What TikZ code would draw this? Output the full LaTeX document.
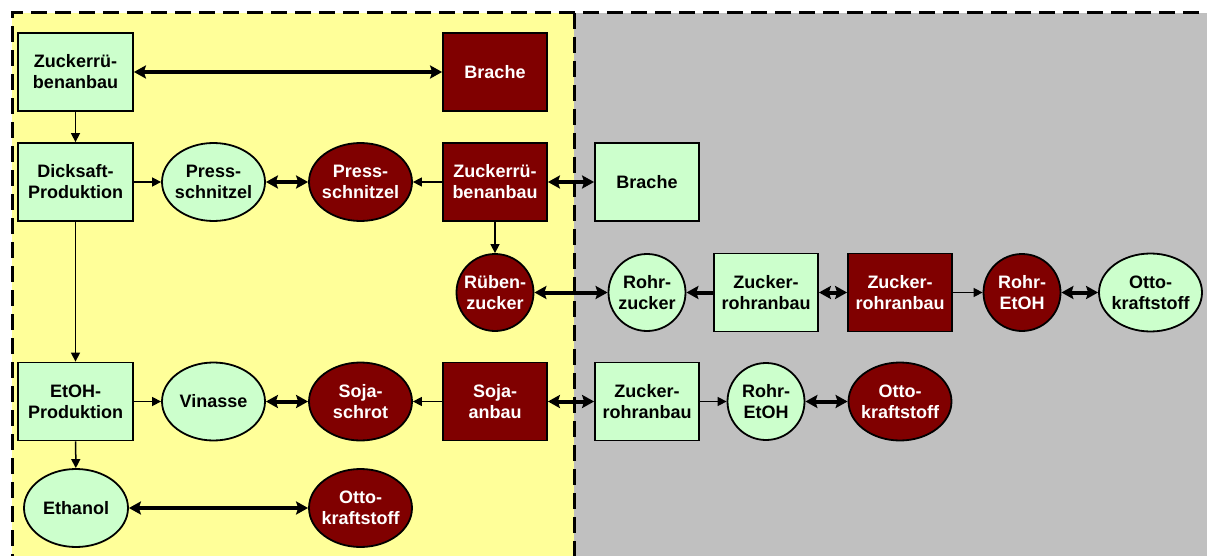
\documentclass[tikz,border=0pt]{standalone}
\usepackage{fontspec}
\setmainfont{Liberation Sans}
\usepackage{tikz}
\usetikzlibrary{shapes.geometric,arrows.meta}
\definecolor{PaleGreen}{HTML}{CCFFCC}
\definecolor{DarkRed}{HTML}{800000}
\definecolor{PaleYellow}{HTML}{FFFF99}
\definecolor{MidGray}{HTML}{C0C0C0}
\newcommand{\PG}[0]{PaleGreen}
\newcommand{\PR}[0]{DarkRed}

\tikzset{
  cell/.style={draw=black, line width=1.8pt, inner sep=0pt, align=center,
    font=\bfseries\fontsize{18}{21}\selectfont},
  gbox/.style={cell, rectangle, fill=\PG, minimum width=104pt, minimum height=78pt},
  rbox/.style={cell, rectangle, fill=\PR, text=white, minimum width=104pt, minimum height=78pt},
  gell/.style={cell, ellipse, fill=\PG, inner xsep=-4pt, minimum width=103pt, minimum height=78pt},
  rell/.style={cell, ellipse, fill=\PR, text=white, inner xsep=-4pt, minimum width=103pt, minimum height=78pt},
  gcirc/.style={cell, circle, fill=\PG, minimum size=77pt},
  rcirc/.style={cell, circle, fill=\PR, text=white, minimum size=77pt},
  flow/.style={line width=1.5pt, -{Triangle[length=9pt,width=9pt]}},
  swap/.style={line width=4pt, {Stealth[length=12pt,width=13pt,inset=2pt]}-{Stealth[length=12pt,width=13pt,inset=2pt]}},
  push/.style={line width=4pt, -{Stealth[length=12pt,width=13pt,inset=2pt]}},
  border/.style={line width=3pt, dash pattern=on 16pt off 8pt}
}

\begin{document}
\begin{tikzpicture}[x=1pt, y=-1pt]

  \useasboundingbox (0,0) rectangle (1207,556);
  \clip (0,0) rectangle (1207,556);

  %% regions
  \fill[PaleYellow] (12,13) rectangle (574,570);
  \fill[MidGray] (574,13) rectangle (1220,570);
  \draw[border] (12,570) -- (12,13) -- (1220,13);
  \draw[border] (574,13) -- (574,570);

  %% row 1
  \node[gbox, minimum width=115pt] (zrA) at (75.5,72) {Zuckerrü-\\benanbau};
  \node[rbox] (brA) at (495,72) {Brache};

  %% row 2
  \node[gbox, minimum width=115pt] (dick) at (75.5,182) {Dicksaft-\\Produktion};
  \node[gell] (psA) at (213.5,182) {Press-\\schnitzel};
  \node[rell] (psB) at (360.5,182) {Press-\\schnitzel};
  \node[rbox] (zrB) at (495,182) {Zuckerrü-\\benanbau};
  \node[gbox] (brB) at (647,182) {Brache};

  %% row 3
  \node[rcirc] (rz) at (495,292.5) {Rüben-\\zucker};
  \node[gcirc] (ohz) at (647,292.5) {Rohr-\\zucker};
  \node[gbox] (zhA) at (766,292.5) {Zucker-\\rohranbau};
  \node[rbox] (zhB) at (900,292.5) {Zucker-\\rohranbau};
  \node[rcirc] (reA) at (1022,292.5) {Rohr-\\EtOH};
  \node[gell] (okA) at (1150.5,292.5) {Otto-\\kraftstoff};

  %% row 4
  \node[gbox, minimum width=115pt] (etp) at (75.5,401.5) {EtOH-\\Produktion};
  \node[gell] (vin) at (213.5,401.5) {Vinasse};
  \node[rell] (sjs) at (360.5,401.5) {Soja-\\schrot};
  \node[rbox] (sja) at (495,401.5) {Soja-\\anbau};
  \node[gbox] (zhC) at (647,401.5) {Zucker-\\rohranbau};
  \node[gcirc] (reB) at (766,401.5) {Rohr-\\EtOH};
  \node[rell] (okB) at (900,401.5) {Otto-\\kraftstoff};

  %% row 5
  \node[gell, minimum width=104pt] (eth) at (76,508) {Ethanol};
  \node[rell] (okC) at (360.5,508) {Otto-\\kraftstoff};

  %% connectors
  \draw[swap] (zrA) -- (brA); %% zrA - brA
  \draw[flow] (zrA) -- (dick); %% zrA - dick
  \draw[flow] (dick) -- (psA); %% dick - psA
  \draw[swap] (psA) -- (psB); %% psA - psB
  \draw[flow] (zrB) -- (psB); %% zrB - psB
  \draw[swap] (zrB) -- (brB); %% zrB - brB
  \draw[flow] (zrB) -- (rz); %% zrB - rz
  \draw[flow] (dick) -- (etp); %% dick - etp

  \draw[swap] (rz) -- (ohz); %% rz - ohz
  \draw[push] (zhA) -- (ohz); %% zhA - ohz
  \draw[swap] (zhA) -- (zhB); %% zhA - zhB
  \draw[flow] (zhB) -- (reA); %% zhB - reA
  \draw[swap] (reA) -- (okA); %% reA - okA

  \draw[flow] (etp) -- (vin); %% etp - vin
  \draw[swap] (vin) -- (sjs); %% vin - sjs
  \draw[flow] (sja) -- (sjs); %% sja - sjs
  \draw[swap] (sja) -- (zhC); %% sja - zhC
  \draw[flow] (zhC) -- (reB); %% zhC - reB
  \draw[swap] (reB) -- (okB); %% reB - okB

  \draw[flow] (etp) -- (eth); %% etp - eth
  \draw[swap] (eth) -- (okC); %% eth - okC

\end{tikzpicture}
\end{document}
